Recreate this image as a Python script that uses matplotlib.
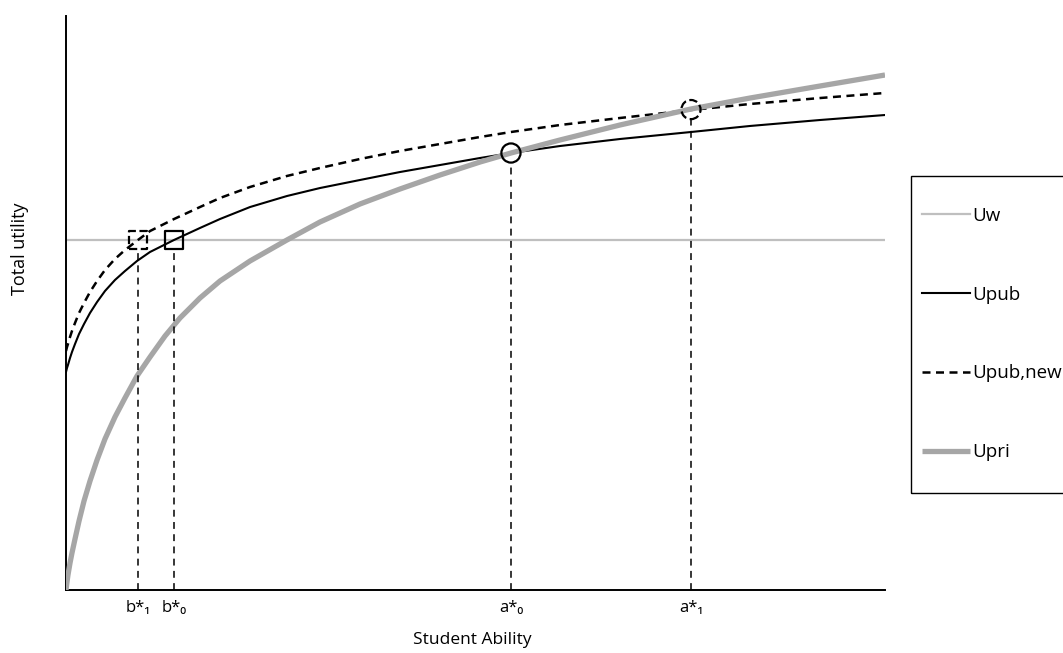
import matplotlib
matplotlib.use("Agg")
import matplotlib.pyplot as plt
from matplotlib.patches import Rectangle

plt.rcParams['font.family'] = ['Open Sans', 'DejaVu Sans']

# student ability (0-100 scale) and utility (0-100 scale)
upri_x = [0, 0.12, 0.24, 0.49, 0.73, 1.10, 1.59, 2.20, 2.93, 3.79, 4.76, 5.98, 7.20,
          8.67, 10.26, 12.09, 13.92, 16.36, 18.80, 22.47, 26.98, 31.01, 35.90, 40.78,
          45.67, 50.55, 54.33, 60.32, 67.64, 76.31, 83.52, 92.06, 100]
upri_y = [0, 1.39, 2.61, 4.70, 6.45, 8.89, 12.02, 15.51, 18.99, 22.65, 26.31, 30.14,
          33.45, 37.28, 40.59, 44.25, 47.39, 50.87, 53.83, 57.32, 60.98, 64.11, 67.25,
          69.86, 72.30, 74.56, 76.13, 78.40, 81.01, 83.80, 85.71, 87.80, 89.72]

upub_x = [0, 0.12, 0.24, 0.49, 0.73, 1.10, 1.59, 2.20, 2.93, 3.79, 4.76, 5.98, 7.20,
          8.67, 10.26, 13.19, 16.36, 18.80, 22.47, 26.98, 31.01, 35.90, 40.78, 45.67,
          50.55, 54.33, 60.32, 67.64, 76.31, 83.52, 92.06, 100]
upub_y = [37.98, 38.68, 39.20, 40.42, 41.46, 42.86, 44.60, 46.34, 48.26, 50.17, 52.09,
          54.01, 55.57, 57.32, 58.89, 60.98, 63.07, 64.63, 66.72, 68.64, 70.03, 71.43,
          72.82, 74.04, 75.26, 76.13, 77.35, 78.57, 79.79, 80.84, 81.88, 82.75]

upub_new_x = [0, 0.12, 0.24, 0.49, 0.73, 1.10, 1.59, 2.20, 2.93, 3.79, 4.76, 5.98, 7.20,
              8.79, 10.26, 13.19, 16.36, 18.80, 22.47, 26.98, 31.01, 35.90, 40.78, 45.67,
              50.55, 54.33, 60.32, 67.64, 76.31, 83.52, 92.06, 100]
upub_new_y = [41.64, 42.33, 42.86, 44.08, 45.12, 46.52, 48.26, 50.00, 51.92, 53.83, 55.75,
              57.67, 59.23, 60.98, 62.54, 64.63, 66.72, 68.29, 70.21, 72.13, 73.52, 75.09,
              76.48, 77.70, 78.92, 79.79, 81.01, 82.23, 83.62, 84.67, 85.71, 86.59]

uw_level = 61.0

# thresholds: b*1, b*0, a*0, a*1
cut_x = [8.79, 13.19, 54.33, 76.31]
cut_y = [61.0, 61.0, 76.13, 83.7]
cut_labels = ['b*\u2081', 'b*\u2080', 'a*\u2080', 'a*\u2081']

fig = plt.figure(figsize=(10.63, 6.53), dpi=100)
ax = fig.add_axes([66 / 1063, 1 - 590 / 653, (885 - 66) / 1063, (590 - 16) / 653])

ax.axhline(uw_level, color='#bfbfbf', lw=1.6, zorder=1, label='Uw')
ax.plot(upub_x, upub_y, color='black', lw=1.5, zorder=2, label='Upub')
ax.plot(upub_new_x, upub_new_y, color='black', lw=1.8, dashes=(3.2, 2.2), zorder=3,
        label='Upub,new')
ax.plot(upri_x, upri_y, color='#a6a6a6', lw=3.8, zorder=4, label='Upri', solid_capstyle='butt')

# drop lines
ax.vlines(cut_x, 0, [y - 1.6 for y in cut_y], colors='black', lw=1.1,
          linestyles=(0, (4.5, 3.5)), zorder=5)

# markers: solid for old, dashed for new
ax.scatter([cut_x[1]], [cut_y[1]], marker='s', s=170, facecolors='none',
           edgecolors='black', linewidths=1.6, zorder=6)
ax.scatter([cut_x[0]], [cut_y[0]], marker='s', s=170, facecolors='none',
           edgecolors='black', linewidths=1.6, linestyles='--', zorder=6)
ax.scatter([cut_x[2]], [cut_y[2]], marker='o', s=190, facecolors='none',
           edgecolors='black', linewidths=1.6, zorder=6)
ax.scatter([cut_x[3]], [cut_y[3]], marker='o', s=190, facecolors='none',
           edgecolors='black', linewidths=1.6, linestyles='--', zorder=6)

ax.set_xlim(0, 100)
ax.set_ylim(0, 100)
ax.set_xticks(cut_x)
ax.set_xticklabels(cut_labels, fontsize=12)
ax.set_yticks([])
ax.tick_params(axis='x', length=0, pad=7)
for s in ['top', 'right']:
    ax.spines[s].set_visible(False)
for s in ['left', 'bottom']:
    ax.spines[s].set_linewidth(1.4)

fig.text(472 / 1063, 1 - 640 / 653, 'Student Ability', ha='center', va='center', fontsize=12.5)
fig.text(20 / 1063, 1 - 249 / 653, 'Total utility', ha='center', va='center',
         rotation=90, fontsize=13)

# legend, frame drawn separately so it can run off the right edge
fig.patches.append(Rectangle((911 / 1063, 1 - 493 / 653), 0.2, (493 - 176) / 653,
                             transform=fig.transFigure, fill=False, edgecolor='black',
                             lw=1.0))
h, l = ax.get_legend_handles_labels()
leg = fig.legend(h, l, loc='center left', bbox_to_anchor=(922 / 1063, 1 - 334 / 653),
                 frameon=False, fontsize=13.5, handlelength=2.56, handletextpad=0.12,
                 borderpad=0, borderaxespad=0, labelspacing=3.25)

fig.savefig('out.png', dpi=100)
